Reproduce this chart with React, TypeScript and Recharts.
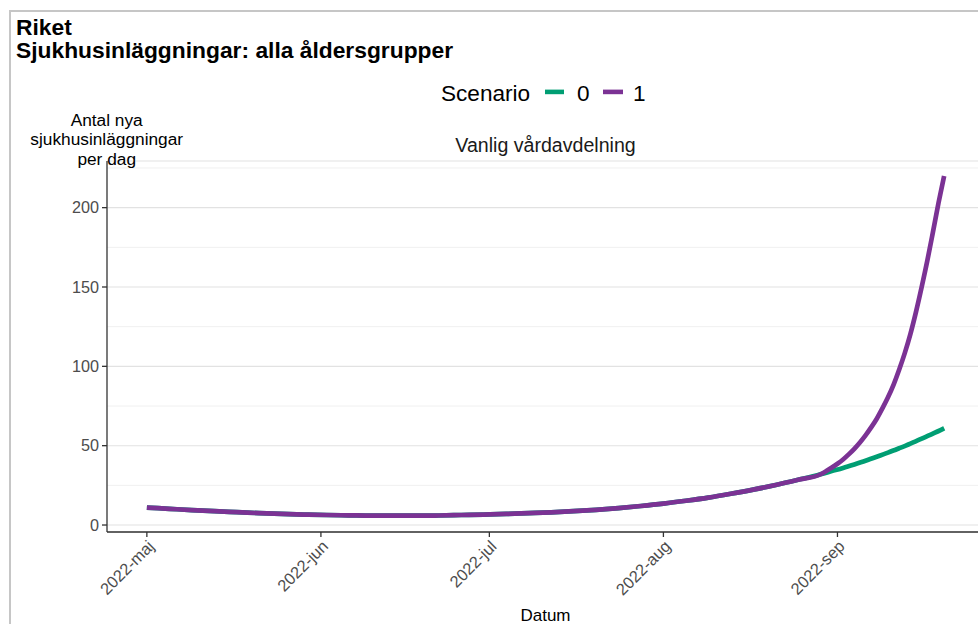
import React from "react";
import { LineChart, Line, XAxis, YAxis, CartesianGrid } from "recharts";

// Day offsets from 2022-05-01
const monthTickDays = [0, 31, 61, 92, 123];
const monthTickLabels = ["2022-maj", "2022-jun", "2022-jul", "2022-aug", "2022-sep"];
const yTicks = [0, 50, 100, 150, 200];
const yMinorTicks = [25, 75, 125, 175, 225];

// Shared history (both scenarios identical)
const sharedDays = [0, 4, 8, 12, 16, 20, 24, 28, 32, 36, 40, 44, 48, 52, 56, 60, 64, 68, 72, 76, 80, 84, 88, 92, 96, 100, 104, 108, 112, 116, 120];
const sharedValues = [11.0, 10.2, 9.4, 8.7, 8.1, 7.5, 7.0, 6.6, 6.3, 6.1, 5.9, 5.9, 5.9, 6.0, 6.3, 6.6, 7.0, 7.5, 8.0, 8.7, 9.6, 10.7, 12.0, 13.5, 15.3, 17.3, 19.7, 22.3, 25.2, 28.5, 32.0];

// Scenario 0 tail
const s0TailDays = [122, 124, 126, 128, 130, 132, 134, 136, 138, 140, 142];
const s0TailValues = [34.0, 36.0, 38.2, 40.5, 43.0, 45.6, 48.4, 51.3, 54.4, 57.6, 61.0];

// Scenario 1 tail
const s1TailDays = [121, 122, 123, 124, 125, 126, 127, 128, 129, 130, 131, 132, 133, 134, 135, 136, 137, 138, 139, 140, 141, 142];
const s1TailValues = [34.0, 36.2, 38.6, 41.3, 44.5, 48.0, 52.0, 56.5, 61.5, 67.0, 73.5, 80.5, 88.5, 98.0, 108.5, 120.5, 134.5, 150.0, 166.5, 184.5, 203.0, 220.0];

const seriesNames = ["0", "1"];
const seriesColors = ["#009E73", "#7B3294"];

const sharedData = sharedDays.map((d, i) => ({ day: d, v: sharedValues[i] }));
const s0Data = [...sharedData, ...s0TailDays.map((d, i) => ({ day: d, v: s0TailValues[i] }))];
const s1Data = [...sharedData, ...s1TailDays.map((d, i) => ({ day: d, v: s1TailValues[i] }))];

const FONT = "'Liberation Sans', Arial, sans-serif";

const XTick = (props: any) => {
  const { x, y, payload } = props;
  const idx = monthTickDays.indexOf(payload.value);
  const label = idx >= 0 ? monthTickLabels[idx] : "";
  return (
    <text
      x={x}
      y={y}
      transform={`rotate(-45 ${x} ${y})`}
      textAnchor="end"
      dy="0.72em"
      fill="#4d4d4d"
      fontSize={16.4}
      fontFamily={FONT}
    >
      {label}
    </text>
  );
};

export default function App() {
  return (
    <div
      style={{
        position: "fixed",
        left: 0,
        top: 0,
        width: 978,
        height: 624,
        overflow: "hidden",
        background: "#ffffff",
      }}
    >
      <div
        style={{
          position: "absolute",
          left: 9,
          top: 10,
          width: 1100,
          height: 800,
          borderLeft: "2px solid #c6c6c6",
          borderTop: "2px solid #c6c6c6",
        }}
      />
      <div style={{ position: "absolute", left: 0, top: 0 }}>
        <LineChart
          width={990}
          height={624}
          margin={{ top: 161, right: 6, bottom: 0, left: 47 }}
        >
          <CartesianGrid
            vertical={false}
            horizontalValues={yMinorTicks}
            stroke="#f0f0f0"
            strokeWidth={1}
          />
          <CartesianGrid vertical={false} stroke="#e2e2e2" strokeWidth={1.1} />
          <XAxis
            dataKey="day"
            type="number"
            domain={[-7.1, 149.1]}
            allowDataOverflow
            ticks={monthTickDays}
            interval={0}
            tick={<XTick />}
            tickSize={5}
            tickMargin={2}
            height={92}
            axisLine={{ stroke: "#333333", strokeWidth: 1.3 }}
            tickLine={{ stroke: "#333333", strokeWidth: 1.3 }}
          />
          <YAxis
            type="number"
            domain={[-4.4, 229.4]}
            allowDataOverflow
            ticks={yTicks}
            interval={0}
            width={60}
            tickSize={5}
            tickMargin={3}
            tick={{ fill: "#4d4d4d", fontSize: 16.2, fontFamily: FONT }}
            axisLine={{ stroke: "#333333", strokeWidth: 1.3 }}
            tickLine={{ stroke: "#333333", strokeWidth: 1.3 }}
          />
          <Line
            data={s0Data}
            dataKey="v"
            name={seriesNames[0]}
            type="monotone"
            stroke={seriesColors[0]}
            strokeWidth={4.7}
            dot={false}
            activeDot={false}
            isAnimationActive={false}
          />
          <Line
            data={s1Data}
            dataKey="v"
            name={seriesNames[1]}
            type="monotone"
            stroke={seriesColors[1]}
            strokeWidth={4.7}
            dot={false}
            activeDot={false}
            isAnimationActive={false}
          />
        </LineChart>
      </div>
      <svg
        width={978}
        height={624}
        style={{ position: "absolute", left: 0, top: 0, pointerEvents: "none" }}
        fontFamily={FONT}
      >
        <text x={16} y={35} fontSize={22.8} fontWeight="bold" fill="#000">Riket</text>
        <text x={16} y={57.5} fontSize={22.8} fontWeight="bold" fill="#000">
          Sjukhusinläggningar: alla åldersgrupper
        </text>

        <text x={441} y={101} fontSize={22.6} fill="#000">Scenario</text>
        <rect x={545} y={89.6} width={19} height={4.6} fill={seriesColors[0]} />
        <text x={577} y={101} fontSize={22.6} fill="#000">{seriesNames[0]}</text>
        <rect x={603} y={89.6} width={20} height={4.6} fill={seriesColors[1]} />
        <text x={633} y={101} fontSize={22.6} fill="#000">{seriesNames[1]}</text>

        <text x={545.5} y={151.5} fontSize={19.6} textAnchor="middle" fill="#1a1a1a">
          Vanlig vårdavdelning
        </text>

        <text x={106.7} y={125.5} fontSize={17.3} textAnchor="middle" fill="#000">Antal nya</text>
        <text x={106.7} y={145} fontSize={17.3} textAnchor="middle" fill="#000">sjukhusinläggningar</text>
        <text x={106.7} y={164.5} fontSize={17.3} textAnchor="middle" fill="#000">per dag</text>

        <text x={545.5} y={621} fontSize={17} textAnchor="middle" fill="#000">Datum</text>
      </svg>
    </div>
  );
}
